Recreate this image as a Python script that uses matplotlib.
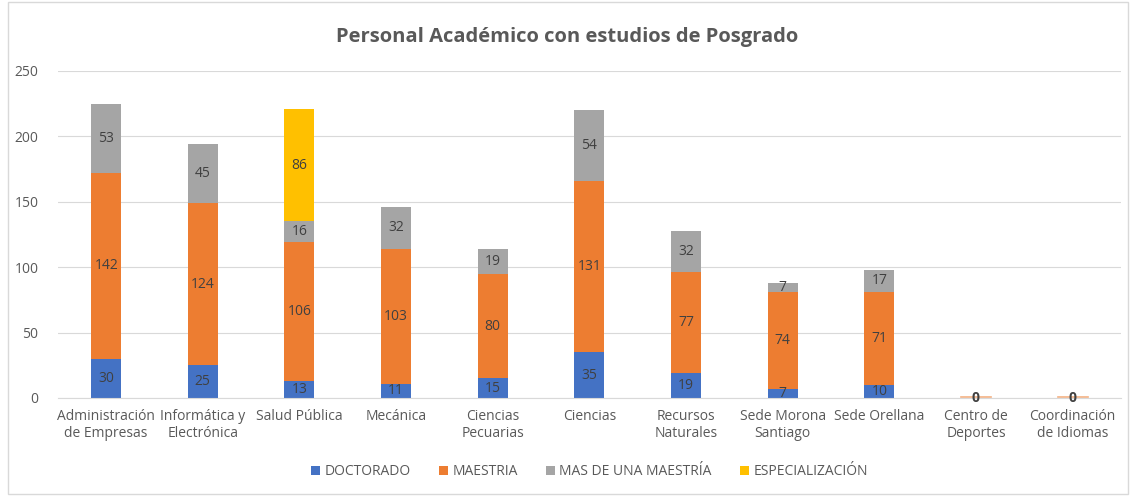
import matplotlib
matplotlib.use("Agg")
import matplotlib.pyplot as plt
from matplotlib.patches import Rectangle
import numpy as np

categories = ["Administración\nde Empresas", "Informática y\nElectrónica", "Salud Pública", "Mecánica",
              "Ciencias\nPecuarias", "Ciencias", "Recursos\nNaturales", "Sede Morona\nSantiago",
              "Sede Orellana", "Centro de\nDeportes", "Coordinación\nde Idiomas"]
doctorado = [30, 25, 13, 11, 15, 35, 19, 7, 10, 0, 0]
maestria = [142, 124, 106, 103, 80, 131, 77, 74, 71, 0, 0]
mas_maestria = [53, 45, 16, 32, 19, 54, 32, 7, 17, 0, 0]
especializacion = [0, 0, 86, 0, 0, 0, 0, 0, 0, 0, 0]
series_names = ["DOCTORADO", "MAESTRIA", "MAS DE UNA MAESTRÍA", "ESPECIALIZACIÓN"]
colors = ["#4472C4", "#ED7D31", "#A5A5A5", "#FFC000"]
zero_cats = [9, 10]

plt.rcParams['font.family'] = ['Open Sans', 'DejaVu Sans']
fig = plt.figure(figsize=(11.34, 4.96), dpi=100)
ax = fig.add_axes([0.051, 0.1976, 0.9375, 0.6594])

x = np.arange(len(categories))
w = 0.31
bottom = np.zeros(len(categories))
for vals, name, col in zip([doctorado, maestria, mas_maestria, especializacion], series_names, colors):
    vals = np.array(vals, dtype=float)
    ax.bar(x, vals, w, bottom=bottom, color=col, label=name, zorder=2)
    for i, v in enumerate(vals):
        if v > 0:
            ax.text(x[i], bottom[i] + v / 2, f"{int(v)}", ha="center", va="center",
                    fontsize=10, color="#404040", zorder=3)
    bottom += vals
for i in zero_cats:
    ax.plot([x[i] - w / 2, x[i] + w / 2], [0.5, 0.5], color="#F4B183", lw=1.2, zorder=2)
    ax.text(x[i], 0, "0", ha="center", va="center", fontsize=10, fontweight="bold",
            color="#404040", zorder=3)

ax.set_ylim(0, 250)
ax.set_xlim(-0.5, len(categories) - 0.5)
ax.set_yticks(range(0, 251, 50))
ax.yaxis.grid(True, color="#D9D9D9", lw=0.8, zorder=0)
ax.set_axisbelow(True)
for s in ["top", "right", "left"]:
    ax.spines[s].set_visible(False)
ax.spines["bottom"].set_color("#D9D9D9")
ax.tick_params(axis="both", length=0, colors="#595959", labelsize=10)
ax.tick_params(axis="y", pad=14)
ax.tick_params(axis="x", pad=8)
ax.set_xticks(x)
ax.set_xticklabels(categories)

fig.suptitle("Personal Académico con estudios de Posgrado", y=0.945, fontsize=14.5,
             fontweight="bold", color="#595959")
ax.legend(loc="center", bbox_to_anchor=(0.5, -0.226), ncol=4, frameon=False,
          fontsize=10, labelcolor="#595959", handlelength=0.7, handleheight=0.7,
          columnspacing=2.0, handletextpad=0.3)

fig.patches.append(Rectangle((0.007, 0.004), 0.988, 0.992, transform=fig.transFigure,
                             fill=False, edgecolor="#D9D9D9", lw=1))
fig.savefig("out.png", dpi=100)
